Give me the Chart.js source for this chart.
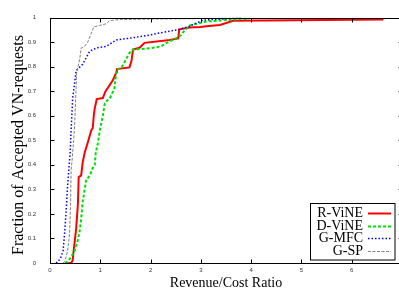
<!DOCTYPE html>
<html><head><meta charset="utf-8">
<script src="https://cdn.jsdelivr.net/npm/chart.js@4"></script>
<style>html,body{margin:0;padding:0;overflow:hidden;background:#fff}canvas{display:block}</style>
</head><body>
<canvas id="c" width="403" height="290"></canvas>
<script>
// ---- data ----
const seriesNames = ['R-ViNE', 'D-ViNE', 'G-MFC', 'G-SP'];
const xTitle = 'Revenue/Cost Ratio';
const yTitle = 'Fraction of Accepted VN-requests';

const rvineX = [0.30,0.42,0.45,0.47,0.52,0.555,0.57,0.62,0.65,0.69,0.75,0.82,0.85,0.87,0.89,0.93,1.05,1.10,1.25,1.32,1.33,1.58,1.62,1.65,1.78,1.88,2.38,2.55,2.57,2.78,2.98,3.11,3.38,3.64,6.63];
const rvineY = [0,0,0.01,0.05,0.14,0.24,0.35,0.357,0.41,0.45,0.49,0.54,0.55,0.60,0.63,0.668,0.672,0.698,0.745,0.777,0.79,0.797,0.823,0.87,0.877,0.897,0.909,0.915,0.952,0.96,0.962,0.965,0.97,0.987,0.992];

const dvineX = [0.30,0.35,0.42,0.49,0.55,0.59,0.62,0.65,0.69,0.72,0.79,0.85,0.89,0.91,0.95,0.99,1.05,1.09,1.15,1.19,1.28,1.32,1.35,1.42,1.58,1.65,2.0,2.21,2.31,2.51,2.61,2.68,2.78,2.91,3.11,3.5,3.97];
const dvineY = [0,0.005,0.025,0.05,0.09,0.13,0.18,0.25,0.30,0.34,0.355,0.387,0.40,0.45,0.486,0.54,0.60,0.65,0.665,0.672,0.71,0.78,0.79,0.795,0.856,0.87,0.875,0.883,0.896,0.916,0.929,0.949,0.968,0.975,0.984,0.99,0.996];

const gmfcX = [0.12,0.16,0.22,0.26,0.29,0.32,0.35,0.37,0.40,0.42,0.45,0.52,0.55,0.65,0.79,0.92,1.12,1.22,1.32,1.58,1.78,1.98,2.12,2.31,2.58,2.78,2.91,3.04,3.4,3.8];
const gmfcY = [0,0.005,0.025,0.05,0.12,0.21,0.315,0.37,0.447,0.54,0.67,0.785,0.79,0.81,0.863,0.876,0.883,0.896,0.909,0.916,0.922,0.929,0.935,0.942,0.952,0.965,0.978,0.99,0.994,0.998];

const gspX = [0.26,0.29,0.32,0.35,0.39,0.41,0.42,0.44,0.47,0.49,0.51,0.53,0.59,0.62,0.69,0.75,0.82,0.87,0.99,1.12,1.19,1.38,2.0,3.0,3.78];
const gspY = [0,0.005,0.025,0.05,0.12,0.25,0.38,0.42,0.50,0.56,0.67,0.776,0.83,0.876,0.883,0.90,0.935,0.962,0.968,0.975,0.988,0.992,0.994,0.996,0.998];

const xTicks = [0,1,2,3,4,5,6];
const yTicks = [0,0.1,0.2,0.3,0.4,0.5,0.6,0.7,0.8,0.9,1];

const pts = (xs, ys) => xs.map((v, i) => ({x: v, y: ys[i]}));
const serif = '"Liberation Serif", "Times New Roman", serif';

const framePlugin = {
  id: 'frame',
  afterDatasetsDraw(chart) {
    const {ctx, chartArea: a, scales} = chart;
    const L = Math.round(a.left) + 0.5, R = Math.round(a.right) + 0.5;
    const T = Math.round(a.top) + 0.5, B = Math.round(a.bottom) + 0.5;
    ctx.save();
    ctx.strokeStyle = '#000'; ctx.lineWidth = 1; ctx.setLineDash([]);
    ctx.strokeRect(L, T, R - L, B - T);
    ctx.beginPath();
    xTicks.forEach(v => {
      const p = Math.round(scales.x.getPixelForValue(v)) + 0.5;
      ctx.moveTo(p, B); ctx.lineTo(p, B - 4);
      ctx.moveTo(p, T); ctx.lineTo(p, T + 4);
    });
    yTicks.forEach(v => {
      const p = Math.round(scales.y.getPixelForValue(v)) + 0.5;
      ctx.moveTo(L, p); ctx.lineTo(L + 4, p);
      ctx.moveTo(R, p); ctx.lineTo(R - 4, p);
    });
    ctx.stroke();
    ctx.restore();
  },
  afterDraw(chart) {
    const ctx = chart.ctx;
    ctx.save();
    // y axis title
    ctx.save();
    ctx.translate(22.5, 145);
    ctx.rotate(-Math.PI / 2);
    ctx.font = '16px ' + serif;
    ctx.fillStyle = '#000';
    ctx.textAlign = 'center'; ctx.textBaseline = 'alphabetic';
    ctx.fillText(yTitle, 0, 0);
    ctx.restore();
    // legend
    const bx = 310.5, by = 203.5, bw = 84.5, bh = 56.5;
    ctx.fillStyle = '#fff';
    ctx.fillRect(bx, by, bw, bh);
    ctx.strokeStyle = '#000'; ctx.lineWidth = 1; ctx.setLineDash([]);
    ctx.strokeRect(bx, by, bw, bh);
    ctx.font = '14px ' + serif;
    ctx.textAlign = 'right'; ctx.textBaseline = 'middle';
    chart.data.datasets.forEach((ds, i) => {
      const yy = 213 + i * 12.6;
      ctx.fillStyle = '#000';
      ctx.fillText(ds.label, 363, yy + 0.5);
      ctx.strokeStyle = ds.borderColor;
      ctx.lineWidth = ds.borderWidth;
      ctx.setLineDash(ds.borderDash || []);
      ctx.beginPath();
      ctx.moveTo(368, Math.round(yy) + 0.5); ctx.lineTo(391, Math.round(yy) + 0.5);
      ctx.stroke();
    });
    ctx.restore();
  }
};

const mk = (label, xs, ys, color, width, dash, order) => ({
  label, data: pts(xs, ys), borderColor: color, backgroundColor: color,
  borderWidth: width, borderDash: dash, showLine: true, pointRadius: 0,
  fill: false, tension: 0, order
});

new Chart(document.getElementById('c'), {
  type: 'scatter',
  data: {
    datasets: [
      mk(seriesNames[0], rvineX, rvineY, '#ff0000', 2, [], 4),
      mk(seriesNames[1], dvineX, dvineY, '#00e000', 2, [3, 2], 3),
      mk(seriesNames[2], gmfcX, gmfcY, '#0000ff', 1.5, [1.5, 2], 2),
      mk(seriesNames[3], gspX, gspY, '#808080', 1, [3, 1.5], 1)
    ]
  },
  options: {
    responsive: false, animation: false, devicePixelRatio: 1,
    layout: {padding: {top: 10, right: 1, left: 0, bottom: 0}},
    plugins: {legend: {display: false}, tooltip: {enabled: false}},
    scales: {
      x: {
        type: 'linear', min: 0, max: 7,
        grid: {display: false, drawTicks: false},
        border: {display: false},
        afterFit: s => { s.height = 27; },
        afterBuildTicks: s => { s.ticks = xTicks.map(v => ({value: v})); },
        ticks: {padding: 4, color: '#333', font: {family: 'Liberation Sans, Arial, sans-serif', size: 6}, maxRotation: 0,
          callback: v => String(v)},
        title: {display: true, text: xTitle, color: '#000', padding: 0,
          font: {family: serif, size: 14, lineHeight: 1}}
      },
      y: {
        type: 'linear', min: 0, max: 1,
        grid: {display: false, drawTicks: false},
        border: {display: false},
        afterFit: s => { s.width = 50; },
        afterBuildTicks: s => { s.ticks = yTicks.map(v => ({value: v})); },
        ticks: {padding: 14, color: '#333', font: {family: 'Liberation Sans, Arial, sans-serif', size: 6},
          callback: v => String(Number(v.toFixed(1)))},
        title: {display: false}
      }
    }
  },
  plugins: [framePlugin]
});
</script>
</body></html>
